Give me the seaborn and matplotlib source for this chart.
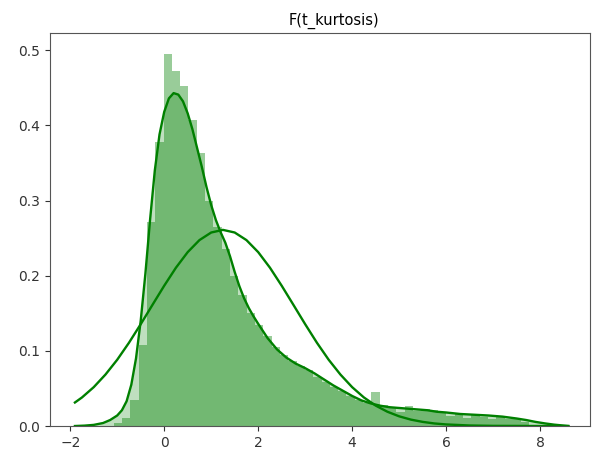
import numpy as np
import pandas as pd
import matplotlib
matplotlib.use("Agg")
import matplotlib.pyplot as plt
import seaborn as sns

# ---- data ----
bin_start = -1.077
bin_width = 0.177
hist_heights = [0.004, 0.011, 0.035, 0.108, 0.272, 0.378, 0.495, 0.472, 0.452, 0.407,
                0.363, 0.300, 0.265, 0.235, 0.200, 0.175, 0.150, 0.135, 0.120, 0.105,
                0.095, 0.087, 0.080, 0.075, 0.065, 0.058, 0.052, 0.046, 0.040, 0.035,
                0.031, 0.045, 0.028, 0.024, 0.019, 0.027, 0.020, 0.022, 0.021, 0.018,
                0.013, 0.016, 0.011, 0.014, 0.012, 0.010, 0.012, 0.009, 0.010, 0.006]

kde_x = [-1.9, -1.7, -1.5, -1.3, -1.15, -1.0, -0.9, -0.8, -0.7, -0.6, -0.5, -0.4, -0.3,
         -0.2, -0.1, 0.0, 0.1, 0.2, 0.3, 0.4, 0.5, 0.6, 0.7, 0.8, 0.9, 1.0, 1.1, 1.2,
         1.3, 1.4, 1.5, 1.6, 1.7, 1.8, 1.9, 2.0, 2.2, 2.4, 2.6, 2.8, 3.0, 3.2, 3.4,
         3.6, 3.8, 4.0, 4.2, 4.4, 4.6, 4.8, 5.0, 5.2, 5.4, 5.6, 5.8, 6.0, 6.3, 6.6,
         6.9, 7.2, 7.5, 7.7, 7.9, 8.1, 8.3, 8.6]
kde_y = [0.000, 0.0005, 0.0015, 0.004, 0.008, 0.014, 0.021, 0.033, 0.055, 0.090, 0.140,
         0.203, 0.275, 0.340, 0.388, 0.418, 0.436, 0.443, 0.441, 0.432, 0.416, 0.395,
         0.370, 0.345, 0.318, 0.294, 0.274, 0.258, 0.244, 0.226, 0.205, 0.186, 0.170,
         0.157, 0.146, 0.136, 0.117, 0.102, 0.091, 0.083, 0.077, 0.070, 0.062, 0.054,
         0.047, 0.040, 0.034, 0.030, 0.027, 0.025, 0.024, 0.023, 0.022, 0.021, 0.019,
         0.018, 0.016, 0.015, 0.014, 0.0125, 0.010, 0.008, 0.0055, 0.0035, 0.0018, 0.0]

fit_x = [-1.9, -1.75, -1.5, -1.25, -1.0, -0.75, -0.5, -0.25, 0.0, 0.25, 0.5, 0.75, 1.0,
         1.25, 1.5, 1.75, 2.0, 2.25, 2.5, 2.75, 3.0, 3.25, 3.5, 3.75, 4.0, 4.25, 4.5,
         4.75, 5.0, 5.25, 5.5, 5.75, 6.0, 6.5, 7.0, 7.5, 8.0, 8.6]
fit_y = [0.0313, 0.0380, 0.0517, 0.0685, 0.0882, 0.1108, 0.1355, 0.1612, 0.1867, 0.2107,
         0.2314, 0.2474, 0.2575, 0.2610, 0.2575, 0.2474, 0.2314, 0.2107, 0.1867, 0.1612,
         0.1355, 0.1108, 0.0882, 0.0685, 0.0517, 0.0380, 0.0272, 0.0190, 0.0129, 0.0085,
         0.0055, 0.0034, 0.0021, 0.0007, 0.0002, 0.0001, 0.0, 0.0]

title = "F(t_kurtosis)"
x_ticks = [-2, 0, 2, 4, 6, 8]
y_ticks = [0.0, 0.1, 0.2, 0.3, 0.4, 0.5]

# ---- build ----
n_bins = len(hist_heights)
edges = [bin_start + bin_width * k for k in range(n_bins + 1)]
centers = [bin_start + bin_width * (k + 0.5) for k in range(n_bins)]
hist_df = pd.DataFrame({"x": centers, "h": hist_heights})
kde_df = pd.DataFrame({"x": kde_x, "y": kde_y})
fit_df = pd.DataFrame({"x": fit_x, "y": fit_y})

fig = plt.figure(figsize=(5.92, 4.5), dpi=100)
ax = fig.add_axes([0.0845, 0.0533, 0.912, 0.8734])

sns.histplot(data=hist_df, x="x", weights="h", bins=edges, stat="count",
             color="green", alpha=0.4, linewidth=0, ax=ax)
ax.fill_between(kde_df["x"], kde_df["y"], color="green", alpha=0.25, linewidth=0)
sns.lineplot(data=kde_df, x="x", y="y", color="green", linewidth=1.7, ax=ax)
sns.lineplot(data=fit_df, x="x", y="y", color="green", linewidth=1.7, ax=ax)

ax.set_xlim(-2.43, 9.06)
ax.set_ylim(0, 0.523)
ax.set_xticks(x_ticks)
ax.set_yticks(y_ticks)
ax.set_xlabel("")
ax.set_ylabel("")
ax.set_title(title, fontsize=10.5, x=0.526)
for s in ax.spines.values():
    s.set_color("#555555")
ax.tick_params(colors="#333333", labelsize=10)

fig.savefig("out.png", dpi=100)
